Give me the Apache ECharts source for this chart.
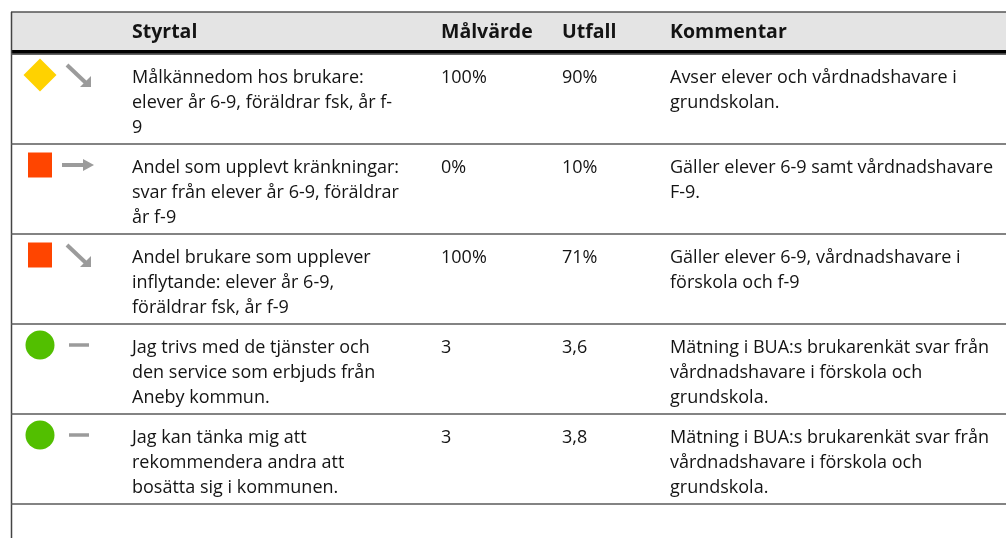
<!DOCTYPE html>
<html><head><meta charset="utf-8">
<script src="https://cdn.jsdelivr.net/npm/echarts@6/dist/echarts.min.js"></script>
<style>html,body{margin:0;padding:0;background:#fff}#c{width:1006px;height:538px}</style>
</head><body><div id="c"></div>
<script>
// ---- data ----
const headers = ['Styrtal', 'Målvärde', 'Utfall', 'Kommentar'];
const rowIds = ['r1', 'r2', 'r3', 'r4', 'r5'];
const status = ['gul', 'röd', 'röd', 'grön', 'grön'];
const trend = ['ned', 'oförändrad', 'ned', 'streck', 'streck'];
const styrtal = [
  'Målkännedom hos brukare:\nelever år 6-9, föräldrar fsk, år f-\n9',
  'Andel som upplevt kränkningar:\nsvar från elever år 6-9, föräldrar\når f-9',
  'Andel brukare som upplever\ninflytande: elever år 6-9,\nföräldrar fsk, år f-9',
  'Jag trivs med de tjänster och\nden service som erbjuds från\nAneby kommun.',
  'Jag kan tänka mig att\nrekommendera andra att\nbosätta sig i kommunen.'
];
const malvarde = ['100%', '0%', '100%', '3', '3'];
const utfall = ['90%', '10%', '71%', '3,6', '3,8'];
const kommentar = [
  'Avser elever och vårdnadshavare i\ngrundskolan.',
  'Gäller elever 6-9 samt vårdnadshavare\nF-9.',
  'Gäller elever 6-9, vårdnadshavare i\nförskola och f-9',
  'Mätning i BUA:s brukarenkät svar från\nvårdnadshavare i förskola och\ngrundskola.',
  'Mätning i BUA:s brukarenkät svar från\nvårdnadshavare i förskola och\ngrundskola.'
];

// ---- layout / style ----
const FONT = '"Open Sans"';
const colStart = [0, 108, 417, 538, 646]; // in x-axis units (grid-relative)
const PAD = 13;
const statusStyle = {
  'gul': { shape: 'diamond', color: '#ffd200' },
  'röd': { shape: 'square', color: '#ff4500' },
  'grön': { shape: 'circle', color: '#52bf00' }
};
const GREY = '#9b9b9b';

const chart = echarts.init(document.getElementById('c'), null, { renderer: 'canvas' });

function statusShape(kind, cx, cy) {
  const st = statusStyle[kind];
  if (st.shape === 'diamond') {
    const r = 16.5;
    return { type: 'polygon', shape: { points: [[cx, cy - r], [cx + r, cy], [cx, cy + r], [cx - r, cy]] }, style: { fill: st.color } };
  }
  if (st.shape === 'square') {
    return { type: 'rect', shape: { x: cx - 12, y: cy - 12.5, width: 24, height: 25 }, style: { fill: st.color } };
  }
  return { type: 'circle', shape: { cx: cx, cy: cy, r: 14.5 }, style: { fill: st.color } };
}

function trendShape(kind, cx, cy) {
  if (kind === 'ned') {
    return { type: 'group', children: [
      { type: 'line', shape: { x1: cx - 12, y1: cy - 10, x2: cx + 7, y2: cy + 8 }, style: { stroke: GREY, lineWidth: 4 } },
      { type: 'polygon', shape: { points: [[cx + 12, cy + 12], [cx + 1, cy + 12], [cx + 12, cy + 1]] }, style: { fill: GREY } }
    ] };
  }
  if (kind === 'oförändrad') {
    return { type: 'group', children: [
      { type: 'line', shape: { x1: cx - 17, y1: cy, x2: cx + 6, y2: cy }, style: { stroke: GREY, lineWidth: 4 } },
      { type: 'polygon', shape: { points: [[cx + 15, cy], [cx + 4, cy - 6], [cx + 4, cy + 6]] }, style: { fill: GREY } }
    ] };
  }
  return { type: 'line', shape: { x1: cx - 10, y1: cy, x2: cx + 10, y2: cy }, style: { stroke: GREY, lineWidth: 3.5 } };
}

function cellText(text, x, y, bold) {
  return { type: 'text', style: { text: text, x: x, y: y, fill: '#141414', font: (bold ? 'bold ' : '') + '18px ' + FONT, lineHeight: 25, verticalAlign: 'top', textAlign: 'left' } };
}

const option = {
  animation: false,
  grid: { left: 11, right: 0, top: 54, bottom: 34 },
  xAxis: { type: 'value', min: 0, max: 995, show: false },
  yAxis: {
    type: 'category', inverse: true, data: rowIds,
    axisLine: { show: false }, axisTick: { show: false }, axisLabel: { show: false },
    splitLine: { show: true, lineStyle: { color: '#5a5a5a', width: 1.5 } }
  },
  graphic: [
    { type: 'rect', shape: { x: 11, y: 12, width: 995, height: 38 }, style: { fill: '#e4e4e4' } },
    { type: 'line', shape: { x1: 11, y1: 12, x2: 1006, y2: 12 }, style: { stroke: '#555', lineWidth: 1.5 } },
    { type: 'rect', shape: { x: 11, y: 50, width: 995, height: 4.5 }, style: { fill: '#000' } },
    { type: 'line', shape: { x1: 11.5, y1: 12, x2: 11.5, y2: 538 }, style: { stroke: '#444', lineWidth: 1.5 } }
  ].concat(headers.map((h, k) => ({
    type: 'text', style: { text: h, x: 11 + colStart[k + 1] + PAD, y: 32, fill: '#141414', font: 'bold 19.5px ' + FONT, verticalAlign: 'middle' }
  }))),
  series: [{
    type: 'custom',
    data: rowIds.map((id, i) => [0, i]),
    renderItem: function (params, api) {
      const i = params.dataIndex;
      const c = api.coord([0, i]);
      const h = api.size([0, 1])[1];
      const top = c[1] - h / 2;
      const x0 = c[0];
      const children = [
        statusShape(status[i], x0 + 29, top + 21),
        trendShape(trend[i], x0 + 68, top + 21)
      ];
      const texts = [styrtal[i], malvarde[i], utfall[i], kommentar[i]];
      texts.forEach((t, k) => {
        const x = api.coord([colStart[k + 1] + PAD, i])[0];
        children.push(cellText(t, x, top + 11.5, false));
      });
      return { type: 'group', children: children };
    }
  }]
};
chart.setOption(option);
</script>
</body></html>
